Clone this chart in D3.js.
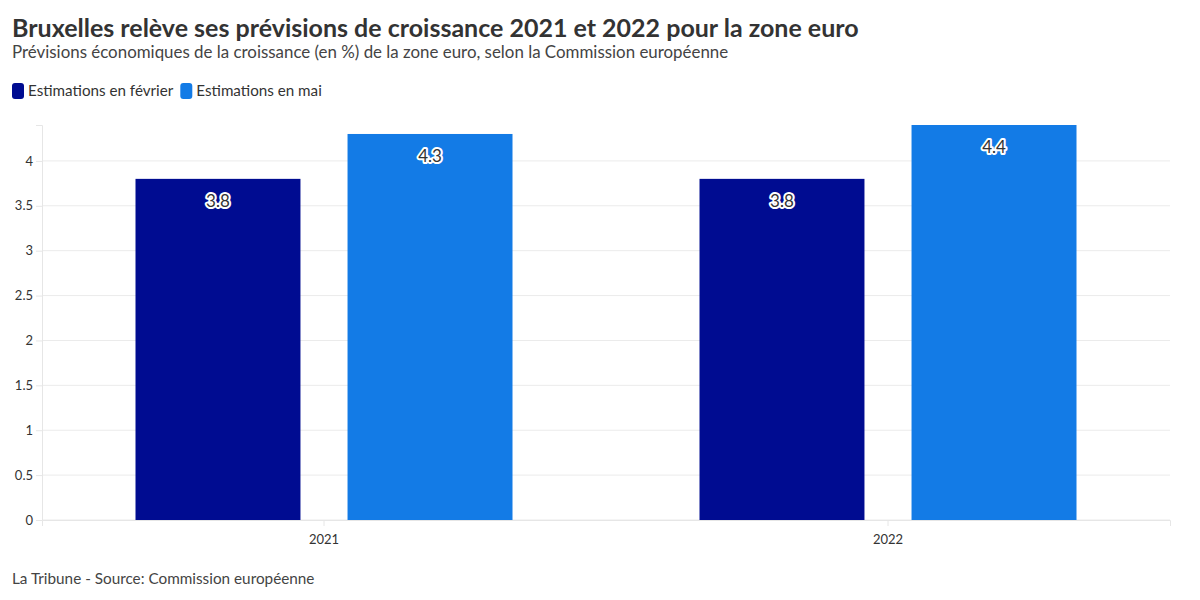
<!DOCTYPE html>
<html>
<head>
<meta charset="utf-8">
<script src="https://cdn.jsdelivr.net/npm/d3@7"></script>
<style>
  body { margin: 0; background: #fff; }
  svg text { font-family: "Source Sans Pro", Lato, "Open Sans", sans-serif; }
</style>
</head>
<body>
<div id="chart"></div>
<script>
// data
const years = ["2021", "2022"];
const series = ["Estimations en février", "Estimations en mai"];
const fevrier = [3.8, 3.8];
const mai = [4.3, 4.4];
const yTicks = [0, 0.5, 1, 1.5, 2, 2.5, 3, 3.5, 4];
const colors = ["#000c91", "#137be6"];

const width = 1200, height = 600;
const margin = {top: 125, right: 30, bottom: 80, left: 42};

const svg = d3.select("#chart").append("svg")
    .attr("width", width)
    .attr("height", height);

// titre
svg.append("text")
    .attr("x", 12).attr("y", 37)
    .attr("font-size", 25).attr("font-weight", 700)
    .attr("fill", "#333")
    .text("Bruxelles relève ses prévisions de croissance 2021 et 2022 pour la zone euro");

svg.append("text")
    .attr("x", 12).attr("y", 58)
    .attr("font-size", 16.9)
    .attr("fill", "#444")
    .text("Prévisions économiques de la croissance (en %) de la zone euro, selon la Commission européenne");

// legende
const legend = svg.append("g").attr("transform", "translate(12,83)");
let lx = 0;
series.forEach(function (s, i) {
    let g = legend.append("g").attr("transform", "translate(" + lx + ",0)");
    g.append("rect")
        .attr("width", 12).attr("height", 16)
        .attr("rx", 3)
        .attr("fill", colors[i]);
    let t = g.append("text")
        .attr("x", 16).attr("y", 13)
        .attr("font-size", 15.2)
        .attr("fill", "#333")
        .text(s);
    lx += 16 + t.node().getComputedTextLength() + 7;
});

const innerW = width - margin.left - margin.right;
const innerH = height - margin.top - margin.bottom;

const plot = svg.append("g")
    .attr("transform", "translate(" + margin.left + "," + margin.top + ")");

const y = d3.scaleLinear().domain([0, 4.4]).range([innerH, 0]);
const x0 = d3.scaleBand().domain(years).range([0, innerW]).paddingInner(0).paddingOuter(0);
const x1 = d3.scaleBand().domain(series).range([0, 377]).paddingInner(0.222).paddingOuter(0);

// grille
plot.selectAll(".grid")
    .data(yTicks)
    .enter().append("line")
    .attr("x1", 0).attr("x2", innerW)
    .attr("y1", d => y(d)).attr("y2", d => y(d))
    .attr("stroke", "#ebebeb");

// axe y
const yAxis = plot.append("g")
    .call(d3.axisLeft(y).tickValues(yTicks).tickSize(6).tickFormat(d3.format("")));
yAxis.select(".domain").attr("stroke", "#e6e6e6");
yAxis.selectAll(".tick line").attr("stroke", "#e6e6e6");
yAxis.selectAll("text").attr("font-size", 13).attr("fill", "#333").attr("font-family", null);

// axe x
const xAxis = plot.append("g")
    .attr("transform", "translate(0," + innerH + ")")
    .call(d3.axisBottom(x0).tickSize(6).tickPadding(9));
xAxis.select(".domain").attr("stroke", "#e6e6e6");
xAxis.selectAll(".tick line").attr("stroke", "#e6e6e6");
xAxis.selectAll("text").attr("font-size", 13).attr("fill", "#333").attr("font-family", null);

// barres
const rows = years.map(function (yr, i) {
    return {year: yr, vals: [fevrier[i], mai[i]]};
});

const groups = plot.selectAll(".group")
    .data(rows)
    .enter().append("g")
    .attr("transform", d => "translate(" + (x0(d.year) + (x0.bandwidth() - 377) / 2) + ",0)");

const bars = groups.selectAll(".bar")
    .data(d => d.vals.map((v, i) => ({key: series[i], value: v, idx: i})))
    .enter();

bars.append("rect")
    .attr("x", d => x1(d.key))
    .attr("y", d => y(d.value))
    .attr("width", x1.bandwidth())
    .attr("height", d => innerH - y(d.value))
    .attr("fill", d => colors[d.idx]);

bars.append("text")
    .attr("x", d => x1(d.key) + x1.bandwidth() / 2)
    .attr("y", d => y(d.value) + 28)
    .attr("text-anchor", "middle")
    .attr("font-size", 17)
    .attr("fill", "#333")
    .attr("stroke", "#fff")
    .attr("stroke-width", 4)
    .attr("stroke-linejoin", "round")
    .attr("paint-order", "stroke")
    .text(d => d.value);

// source
svg.append("text")
    .attr("x", 12).attr("y", 584)
    .attr("font-size", 15.3)
    .attr("fill", "#444")
    .text("La Tribune - Source: Commission européenne");
</script>
</body>
</html>
